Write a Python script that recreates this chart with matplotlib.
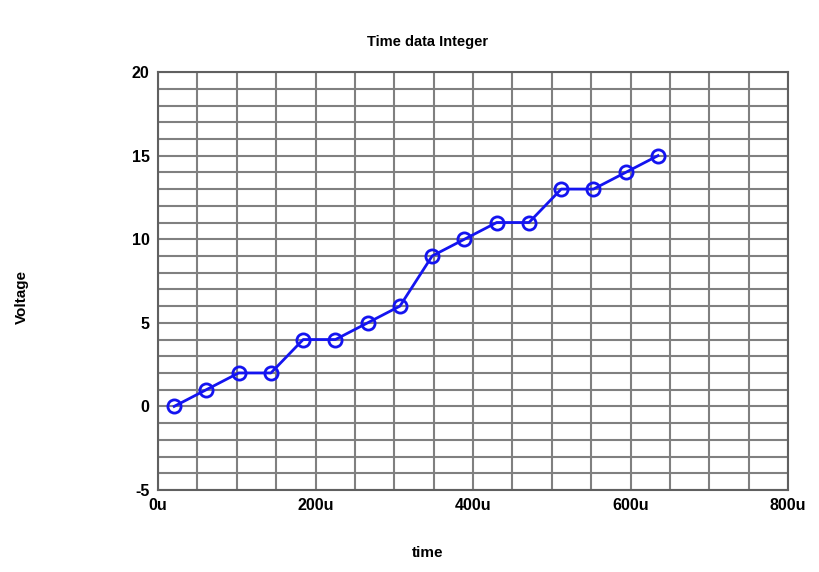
import numpy as np
import matplotlib
matplotlib.use("Agg")
import matplotlib.pyplot as plt
from matplotlib.ticker import FuncFormatter, MultipleLocator

plt.rcParams['font.family'] = ['Liberation Sans', 'DejaVu Sans']
plt.rcParams['font.weight'] = 'bold'
plt.rcParams['axes.unicode_minus'] = False

# sample times in microseconds
time_us = [20.48, 61.44, 102.4, 143.36, 184.32, 225.28, 266.24, 307.2,
           348.16, 389.12, 430.08, 471.04, 512.0, 552.96, 593.92, 634.88]
voltage = [0, 1, 2, 2, 4, 4, 5, 6, 9, 10, 11, 11, 13, 13, 14, 15]

fig = plt.figure(figsize=(8.2, 5.72), dpi=100)
ax = fig.add_axes([0.1927, 0.1434, 0.7683, 0.7306])

ax.plot(time_us, voltage, color='#1414f0', lw=2, marker='o', ms=9.5,
        mfc='none', mec='#1414f0', mew=2, zorder=3)

ax.set_xlim(0, 800)
ax.set_ylim(-5, 20)
ax.xaxis.set_major_locator(MultipleLocator(200))
ax.xaxis.set_minor_locator(MultipleLocator(50))
ax.yaxis.set_major_locator(MultipleLocator(5))
ax.yaxis.set_minor_locator(MultipleLocator(1))
ax.xaxis.set_major_formatter(FuncFormatter(lambda v, p: f"{int(v)}u"))
ax.yaxis.set_major_formatter(FuncFormatter(lambda v, p: f"{int(v)}"))
ax.grid(True, which='both', color='#808080', lw=1.5)
ax.set_axisbelow(True)
ax.tick_params(which='both', length=0, labelsize=11.5, pad=6)
for lbl in ax.get_xticklabels() + ax.get_yticklabels():
    lbl.set_fontweight('bold')
for s in ax.spines.values():
    s.set_color('#606060')
    s.set_linewidth(1.5)

fig.text(0.521, 0.9266, 'Time data Integer', ha='center', va='center',
         fontsize=10.5, fontweight='bold')
fig.text(0.521, 0.033, 'time', ha='center', va='center', fontsize=11, fontweight='bold')
fig.text(0.027, 0.48, 'Voltage', ha='center', va='center', rotation=90,
         fontsize=11, fontweight='bold')

fig.savefig('out.png', dpi=100)
